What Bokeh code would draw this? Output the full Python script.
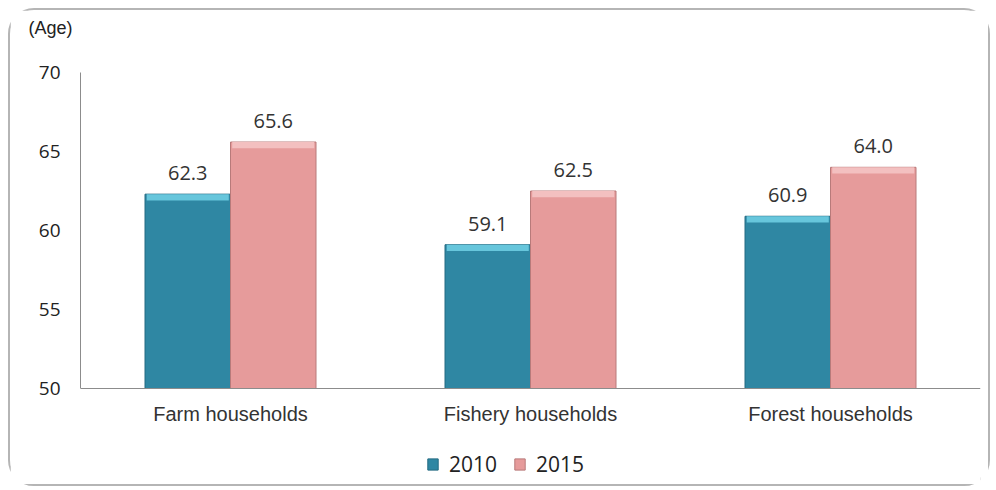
from bokeh.plotting import figure
from bokeh.models import ColumnDataSource, FactorRange, Range1d, Legend, LegendItem, Title
from bokeh.transform import dodge
from bokeh.core.properties import value
from bokeh.embed import file_html
from bokeh.resources import INLINE

categories = ["Farm households", "Fishery households", "Forest households"]
series_names = ["2010", "2015"]
values_2010 = [62.3, 59.1, 60.9]
values_2015 = [65.6, 62.5, 64.0]
y_ticks = [50, 55, 60, 65, 70]
y_unit = "(Age)"

teal = "#2f87a3"
teal_hi = "#67c6dc"
pink = "#e69b9b"
pink_hi = "#f3c0c0"

# layout (pixels)
px_per_unit = 15.8
axis_min, axis_max = 50, 70
pad_below_px = 96   # space below the x axis inside the frame (legend lives there)
pad_above_px = 30

src = ColumnDataSource(dict(
    cat=categories,
    v2010=values_2010,
    v2015=values_2015,
    l2010=[f"{v:.1f}" for v in values_2010],
    l2015=[f"{v:.1f}" for v in values_2015],
    h2010=[v - 0.4 for v in values_2010],
    h2015=[v - 0.4 for v in values_2015],
))

y_range = Range1d(axis_min - pad_below_px / px_per_unit, axis_max + pad_above_px / px_per_unit)

p = figure(width=982, height=478, x_range=FactorRange(*categories), y_range=y_range,
           output_backend="svg", toolbar_location=None,
           min_border_left=70, min_border_right=12, min_border_top=29, min_border_bottom=4)
p.styles = {"border": "2px solid #b5b5b5", "border-radius": "26px", "box-sizing": "border-box",
            "margin-left": "8px", "margin-top": "8px"}
p.outline_line_color = None
p.xgrid.grid_line_color = None
p.ygrid.grid_line_color = None

bw = 0.285
r1 = p.vbar(x=dodge("cat", -bw / 2, range=p.x_range), top="v2010", bottom=axis_min, width=bw, source=src,
            fill_color=teal, line_color="#246b82", line_width=1)
p.vbar(x=dodge("cat", -bw / 2, range=p.x_range), top="v2010", bottom="h2010", width=bw * 0.96, source=src,
       fill_color=teal_hi, line_color=None)
r2 = p.vbar(x=dodge("cat", bw / 2, range=p.x_range), top="v2015", bottom=axis_min, width=bw, source=src,
            fill_color=pink, line_color="#b87a7a", line_width=1)
p.vbar(x=dodge("cat", bw / 2, range=p.x_range), top="v2015", bottom="h2015", width=bw * 0.96, source=src,
       fill_color=pink_hi, line_color=None)

for col, lab, off in (("v2010", "l2010", -bw / 2), ("v2015", "l2015", bw / 2)):
    p.text(x=dodge("cat", off, range=p.x_range), y=col, text=lab, source=src,
           text_align="center", text_baseline="bottom", y_offset=-14,
           text_font=value("Open Sans"), text_font_size="20px", text_color="#333333")

p.yaxis.ticker = y_ticks
p.yaxis.bounds = (axis_min, axis_max)
p.yaxis.axis_line_color = "#8c8c8c"
p.yaxis.major_tick_line_color = None
p.yaxis.minor_tick_line_color = None
p.yaxis.major_label_text_font = "Open Sans"
p.yaxis.major_label_text_font_size = "19px"
p.yaxis.major_label_text_color = "#222222"
p.yaxis.major_label_standoff = 14

p.xaxis.fixed_location = axis_min
p.xaxis.axis_line_color = "#8c8c8c"
p.xaxis.major_tick_line_color = None
p.xaxis.major_label_text_font = "Liberation Sans"
p.xaxis.major_label_text_font_size = "20px"
p.xaxis.major_label_text_color = "#333333"
p.xaxis.major_label_standoff = 8

p.add_layout(Title(text=y_unit, align="left", offset=-52,
                   text_font="Liberation Sans", text_font_size="18px", text_font_style="normal",
                   text_color="#222222"), "above")

legend = Legend(items=[LegendItem(label=series_names[0], renderers=[r1]),
                       LegendItem(label=series_names[1], renderers=[r2])],
                location=(346, 6), orientation="horizontal",
                glyph_width=13, glyph_height=14, label_standoff=10, spacing=16,
                padding=0, margin=0, border_line_color=None, background_fill_alpha=0,
                label_text_font="Open Sans", label_text_font_size="21px", label_text_color="#222222")
p.add_layout(legend, "center")

open("out.html", "w").write(file_html(p, INLINE))
